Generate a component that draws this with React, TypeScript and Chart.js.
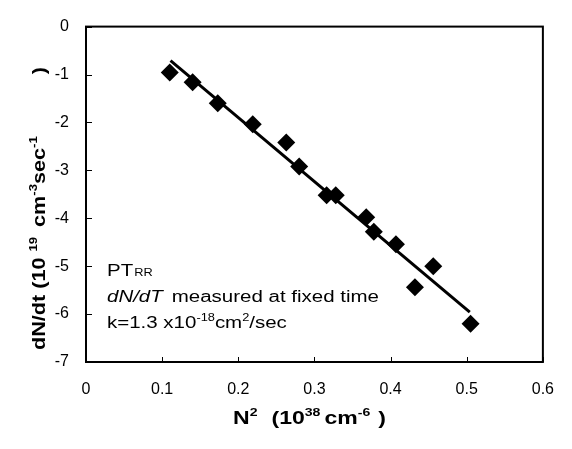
import React, { useEffect, useRef } from "react";
import { Chart, registerables } from "chart.js";

Chart.register(...registerables);

// ---- data ----
const n2Values = [0.110, 0.140, 0.173, 0.219, 0.263, 0.280, 0.316, 0.328, 0.368, 0.378, 0.407, 0.432, 0.456, 0.505];
const dndtValues = [-0.96, -1.16, -1.60, -2.04, -2.42, -2.92, -3.52, -3.52, -3.98, -4.28, -4.54, -5.44, -5.00, -6.20];
const fitX = [0.111, 0.504];
const fitY = [-0.71, -5.96];
const xTickValues = [0, 0.1, 0.2, 0.3, 0.4, 0.5, 0.6];
const yTickValues = [0, -1, -2, -3, -4, -5, -6, -7];

type Seg = { t: string; sup?: boolean; sub?: boolean; italic?: boolean; gap?: number };

const FAMILY = '"Liberation Sans", Arial, Helvetica, sans-serif';

function drawRich(
  ctx: CanvasRenderingContext2D,
  x: number,
  y: number,
  segs: Seg[],
  size: number,
  weight: string,
  scaleX: number,
  rotate: boolean
) {
  ctx.save();
  ctx.translate(x, y);
  if (rotate) ctx.rotate(-Math.PI / 2);
  ctx.scale(scaleX, 1);
  ctx.fillStyle = "#000";
  ctx.textBaseline = "alphabetic";
  ctx.textAlign = "left";
  let cx = 0;
  for (const s of segs) {
    if (s.gap) cx += s.gap / scaleX;
    let fs = size;
    let dy = 0;
    if (s.sup) {
      fs = Math.round(size * 0.62);
      dy = -size * 0.42;
    } else if (s.sub) {
      fs = Math.round(size * 0.6);
      dy = size * 0.02;
    }
    ctx.font = `${s.italic ? "italic " : ""}${weight} ${fs}px ${FAMILY}`;
    ctx.fillText(s.t, cx, dy);
    cx += ctx.measureText(s.t).width;
  }
  ctx.restore();
}

const decorPlugin = {
  id: "decor",
  afterDraw(chart: any) {
    const { ctx, chartArea, scales } = chart;
    const { left, right, top, bottom } = chartArea;
    ctx.save();
    // inward ticks
    ctx.strokeStyle = "#000";
    ctx.lineWidth = 1;
    ctx.beginPath();
    for (const v of xTickValues) {
      const px = Math.round(scales.x.getPixelForValue(v)) + 0.5;
      ctx.moveTo(px, bottom);
      ctx.lineTo(px, bottom - 5);
    }
    for (const v of yTickValues) {
      const py = Math.round(scales.y.getPixelForValue(v)) + 0.5;
      ctx.moveTo(left, py);
      ctx.lineTo(left + 6, py);
    }
    ctx.stroke();
    // frame
    ctx.lineWidth = 2;
    ctx.strokeRect(left, top, right - left, bottom - top);
    ctx.restore();

    // axis titles
    drawRich(
      ctx,
      233,
      424,
      [
        { t: "N" },
        { t: "2", sup: true },
        { t: "(10", gap: 14 },
        { t: "38", sup: true },
        { t: "cm", gap: 4 },
        { t: "-6", sup: true },
        { t: ")", gap: 8 },
      ],
      18,
      "bold",
      1.28,
      false
    );
    drawRich(
      ctx,
      45,
      350,
      [
        { t: "dN/dt (10" },
        { t: "19", sup: true, gap: 6 },
        { t: "cm", gap: 10 },
        { t: "-3", sup: true },
        { t: "sec" },
        { t: "-1", sup: true },
        { t: ")", gap: 62 },
      ],
      18,
      "bold",
      1.2,
      true
    );

    // annotation
    drawRich(ctx, 107, 276, [{ t: "PT" }, { t: "RR", sub: true, gap: 1 }], 16, "normal", 1.28, false);
    drawRich(ctx, 107, 302, [{ t: "dN/dT", italic: true }, { t: "measured at fixed time", gap: 9 }], 16, "normal", 1.28, false);
    drawRich(
      ctx,
      107,
      328,
      [{ t: "k=1.3 x10" }, { t: "-18", sup: true }, { t: "cm" }, { t: "2", sup: true }, { t: "/sec" }],
      16,
      "normal",
      1.28,
      false
    );
  },
};

export default function App() {
  const ref = useRef<HTMLCanvasElement | null>(null);
  useEffect(() => {
    if (!ref.current) return;
    const points = n2Values.map((x, i) => ({ x, y: dndtValues[i] }));
    const fit = fitX.map((x, i) => ({ x, y: fitY[i] }));
    const chart = new Chart(ref.current, {
      type: "scatter",
      data: {
        datasets: [
          {
            data: points,
            pointStyle: "rectRot",
            pointRadius: 9,
            backgroundColor: "#000",
            borderColor: "#000",
            borderWidth: 0,
            showLine: false,
          },
          {
            type: "line",
            data: fit,
            borderColor: "#000",
            borderWidth: 3,
            pointRadius: 0,
            showLine: true,
            fill: false,
          } as any,
        ],
      },
      options: {
        animation: false,
        responsive: false,
        events: [],
        layout: { padding: { top: 12, right: 29, left: 0, bottom: 0 } },
        plugins: { legend: { display: false }, tooltip: { enabled: false } },
        scales: {
          x: {
            type: "linear",
            min: 0,
            max: 0.6,
            afterFit: (s: any) => {
              s.height = 87;
            },
            afterBuildTicks: (s: any) => {
              s.ticks = xTickValues.map((v) => ({ value: v }));
            },
            grid: { display: false, drawTicks: false },
            border: { display: false },
            ticks: {
              padding: 18,
              color: "#000",
              font: { family: FAMILY, size: 16 },
              maxRotation: 0,
              callback: (v: any) => String(Math.round(Number(v) * 10) / 10),
            },
          },
          y: {
            type: "linear",
            min: -7,
            max: 0,
            afterFit: (s: any) => {
              s.width = 86;
            },
            afterBuildTicks: (s: any) => {
              s.ticks = yTickValues.map((v) => ({ value: v }));
            },
            grid: { display: false, drawTicks: false },
            border: { display: false },
            ticks: {
              padding: 17,
              color: "#000",
              font: { family: FAMILY, size: 16 },
              callback: (v: any) => String(Math.round(Number(v))),
            },
          },
        },
      },
      plugins: [decorPlugin],
    });
    return () => chart.destroy();
  }, []);
  return (
    <div style={{ position: "fixed", left: 0, top: 0, width: 572, height: 449, background: "#fff" }}>
      <canvas ref={ref} width={572} height={449} style={{ width: 572, height: 449, display: "block" }} />
    </div>
  );
}
